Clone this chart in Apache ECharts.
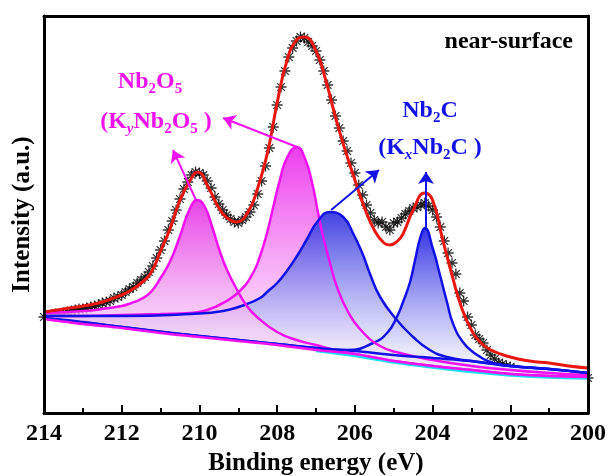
<!DOCTYPE html>
<html><head><meta charset="utf-8">
<script src="https://cdn.jsdelivr.net/npm/echarts@6/dist/echarts.min.js"></script>
<style>html,body{margin:0;padding:0;background:#fff}#c{width:608px;height:476px}</style>
</head><body><div id="c"></div>
<script>
// ---- data (binding energy in eV, intensity in a.u.) ----
const starE = [214,213.9,213.8,213.7,213.6,213.5,213.4,213.3,213.2,213.1,
213,212.9,212.8,212.7,212.6,212.5,212.4,212.3,212.2,212.1,
212,211.9,211.8,211.7,211.6,211.5,211.4,211.3,211.2,211.1,
211,210.9,210.8,210.7,210.6,210.5,210.4,210.3,210.2,210.1,
210,209.9,209.8,209.7,209.6,209.5,209.4,209.3,209.2,209.1,
209,208.9,208.8,208.7,208.6,208.5,208.4,208.3,208.2,208.1,
208,207.9,207.8,207.7,207.6,207.5,207.4,207.3,207.2,207.1,
207,206.9,206.8,206.7,206.6,206.5,206.4,206.3,206.2,206.1,
206,205.9,205.8,205.7,205.6,205.5,205.4,205.3,205.2,205.1,
205,204.9,204.8,204.7,204.6,204.5,204.4,204.3,204.2,204.1,
204,203.9,203.8,203.7,203.6,203.5,203.4,203.3,203.2,203.1,
203,202.9,202.8,202.7,202.6,202.5,202.4,202.3,202.2,202.1,
202,201.9,201.8,201.7,201.6,201.5,201.4,201.3,201.2,201.1,
201,200.9,200.8,200.7,200.6,200.5,200.4,200.3,200.2,200.1,
200];
const starI = [96,97,98,99,99,100,101,102,103,104,
104,105,106,107,108,110,111,112,115,116,
118,121,124,126,130,133,136,141,147,155,
163,172,183,192,203,214,224,231,238,241,
240,238,232,225,216,209,203,198,194,191,
190,193,196,201,208,219,232,247,265,286,
308,326,342,356,365,372,376,375,371,367,
362,353,342,328,313,297,285,272,262,250,
240,228,218,208,200,193,190,191,186,183,
190,191,195,199,202,205,206,208,210,207,
203,196,186,172,160,150,139,120,112,96,
88,78,74,70,63,58,54,50,49,47,
46,44,42,41,40,39,38,38,37,37,
36,36,36,35,36,35,35,35,34,35,
35];

const fitE = [214,213.5,213,212.5,212,211.75,211.5,211.25,211,210.75,210.5,210.25,210.05,209.75,209.5,209.25,209.05,208.75,208.5,208.25,208,207.75,207.5,207.3,207,206.75,206.5,206.25,206,205.75,205.5,205.25,205.1,204.9,204.75,204.5,204.2,204,203.75,203.5,203.25,203,202.75,202.5,202,201.5,201,200.5,200];
const fitI = [101,104,107,111,118,123,130,140,162,185,213,232,241,224,205,194,191,201,225,260,310,352,373,376,362,333,296,263,233,205,183,170,168,172,180,203,220,213,175,138,105,83,70,63,56,52,50,47,45];

// Nb2O5 components (magenta)
const nbo1E = [214,213,212.5,212,211.75,211.5,211.25,211,210.75,210.5,210.25,210.05,209.86,209.68,209.47,209.29,209.03,208.78,208.52,208,207.5,207,206.5,206,205,204,203,202,201,200];
const nbo1I = [100,102,104,107,110,114,121,135,152,177,204,213,206,187,161,143,123,107,96,81,73,68,63,59,52,47,43,39,37,36];
const nbo2E = [214,213,212,211,210.24,209.8,209.39,208.96,208.62,208.44,208.26,208.1,207.93,207.75,207.49,207.28,207.1,206.95,206.82,206.64,206.46,206.2,205.87,205.35,204.84,204,203,202,201,200];
const nbo2I = [97,97,98,99,100,103,110,122,140,157,180,206,233,255,266,254,230,201,177,150,126,103,84,67,60,53,47,43,40,38];

// Nb2C components (blue)
const nbc1E = [214,212,210.24,209.39,208.78,208.44,208.26,208,207.75,207.49,207.23,206.97,206.64,206.3,206.05,205.79,205.61,205.35,204.92,204.5,204.07,203.63,203,202,201,200];
const nbc1I = [97,97,99,102,109,115,121,130,142,157,174,191,201,196,180,158,139,116,93,76,63,56,52,47,44,40];
const nbc2E = [214,212,210,208,207,206.2,205.53,205.17,204.92,204.76,204.58,204.45,204.32,204.2,203.99,203.81,203.63,203.47,203.22,202.96,202.52,202,201,200];
const nbc2I = [95,86,77,69,65,63,70,80,96,111,131,153,175,185,164,138,111,89,71,61,51,47,44,40];

// backgrounds
const bgE = [214,213,212,211,210,209,208,207,206,205,204,203,202,201,200];
const bgUpperI = [95,91,86,81,77,73,69,65,62,58,55,52,47,44,40];
const bgLowerI = [94,89,85,80,76,72,68,63,59,52,47,43,39,37,36];
const cyanE = [207,206,205,204,203,202,201,200];
const cyanI = [62,57,50.5,45.5,41,37.5,35.5,34.5];

// annotation arrows [fromE, fromI, toE, toI]
const arrowsNbO = [[210.09,213,210.68,263],[207.49,266,209.39,295]];
const arrowsNbC = [[206.61,203,205.38,243],[204.17,185,204.17,241]];

const xMin = 200, xMax = 214, xStep = 2;
const yMin = 0, yMax = 397;

// ---- chart ----
const zip = (a, b) => a.map((v, i) => [v, b[i]]);
const FONT = 'Liberation Serif';
const MAG = '#f010f0', BLUE = '#1212e6', RED = '#e8170f', CYAN = '#18e0f0';
const grad = (stops) => new echarts.graphic.LinearGradient(0, 0, 0, 1, stops.map(s => ({offset: s[0], color: s[1]})));

function peak(E, I, color, stops) {
  return {type: 'line', data: zip(E, I), smooth: 0.5, symbol: 'none', silent: true,
    lineStyle: {color: color, width: 2.5}, areaStyle: {color: grad(stops), opacity: 1}};
}
function plain(E, I, color, w) {
  return {type: 'line', data: zip(E, I), smooth: 0.3, symbol: 'none', silent: true, lineStyle: {color: color, width: w}};
}
function arrows(list, color) {
  return {type: 'line', data: [], silent: true,
    markLine: {silent: true, symbol: ['none', 'arrow'], symbolSize: 12, animation: false,
      label: {show: false}, lineStyle: {color: color, width: 2, type: 'solid'},
      itemStyle: {color: color},
      data: list.map(a => [{coord: [a[0], a[1]]}, {coord: [a[2], a[3]]}])}};
}

const axisCommon = {min: xMin, max: xMax, type: 'value', inverse: true, interval: xStep, z: 10};
const chart = echarts.init(document.getElementById('c'), null, {renderer: 'canvas'});
function rich(col) {
  return {
    a: {fontSize: 24, fontWeight: 'bold', fontFamily: FONT, fill: col},
    s: {fontSize: 15, fontWeight: 'bold', fontFamily: FONT, fill: col, padding: [14, 0, 0, 0]},
    i: {fontSize: 15, fontWeight: 'bold', fontStyle: 'italic', fontFamily: FONT, fill: col, padding: [14, 0, 0, 0]}
  };
}
function label(x, y, text, r) {
  return {type: 'text', x: x, y: y, z: 100, silent: true,
    style: {text: text, rich: r, align: 'center', verticalAlign: 'middle', textAlign: 'center', textVerticalAlign: 'middle'}};
}

chart.setOption({
  animation: false,
  backgroundColor: '#fff',
  grid: {left: 44, right: 20, top: 16, bottom: 63, containLabel: false, outerBoundsMode: 'none'},
  xAxis: [
    Object.assign({}, axisCommon, {position: 'bottom',
      axisLine: {show: true, onZero: false, lineStyle: {color: '#000', width: 3}},
      axisTick: {show: true, inside: true, length: 8, lineStyle: {color: '#000', width: 2}},
      minorTick: {show: true, splitNumber: 2, length: 5, lineStyle: {color: '#000', width: 2}},
      axisLabel: {fontSize: 24, fontWeight: 'bold', fontFamily: FONT, color: '#000', margin: 9},
      splitLine: {show: false},
      name: 'Binding energy (eV)', nameLocation: 'middle', nameGap: 36,
      nameTextStyle: {fontSize: 25, fontWeight: 'bold', fontFamily: FONT, color: '#000'}}),
    Object.assign({}, axisCommon, {position: 'top',
      axisLine: {show: true, onZero: false, lineStyle: {color: '#000', width: 3}},
      axisTick: {show: false}, axisLabel: {show: false}, splitLine: {show: false}})
  ],
  yAxis: [
    {type: 'value', min: yMin, max: yMax, position: 'left', z: 10,
      axisLine: {show: true, onZero: false, lineStyle: {color: '#000', width: 3}},
      axisTick: {show: false}, axisLabel: {show: false}, splitLine: {show: false},
      name: 'Intensity (a.u.)', nameLocation: 'middle', nameGap: 9,
      nameTextStyle: {fontSize: 25, fontWeight: 'bold', fontFamily: FONT, color: '#000'}},
    {type: 'value', min: yMin, max: yMax, position: 'right', z: 10,
      axisLine: {show: true, onZero: false, lineStyle: {color: '#000', width: 3}},
      axisTick: {show: false}, axisLabel: {show: false}, splitLine: {show: false}}
  ],
  series: [
    {type: 'line', data: zip(bgE, bgUpperI), symbol: 'none', silent: true, lineStyle: {width: 0},
      areaStyle: {color: '#dcc8e0', opacity: 1}},
    peak(nbc2E, nbc2I, BLUE, [[0, 'rgba(40,40,228,0.95)'], [0.7, 'rgba(228,228,252,0.7)'], [1, 'rgba(228,228,252,0.7)']]),
    peak(nbo2E, nbo2I, MAG, [[0, 'rgba(236,50,236,0.95)'], [0.72, 'rgba(250,218,250,0.7)'], [1, 'rgba(250,218,250,0.7)']]),
    peak(nbc1E, nbc1I, BLUE, [[0, 'rgba(50,50,225,0.92)'], [0.68, 'rgba(232,232,252,0.72)'], [1, 'rgba(232,232,252,0.72)']]),
    peak(nbo1E, nbo1I, MAG, [[0, 'rgba(232,55,232,0.95)'], [0.62, 'rgba(246,208,246,0.72)'], [1, 'rgba(246,208,246,0.72)']]),
    {type: 'line', data: zip(bgE, bgLowerI), symbol: 'none', silent: true, lineStyle: {width: 0},
      areaStyle: {color: '#ffffff', opacity: 1}},
    plain(cyanE, cyanI, CYAN, 2.5),
    plain(bgE, bgUpperI, BLUE, 2.5),
    plain(bgE, bgLowerI, MAG, 2.5),
    {type: 'scatter', data: zip(starE, starI), silent: true,
      symbol: 'path://M0,5L10,5M5,0L5,10M1.5,1.5L8.5,8.5M8.5,1.5L1.5,8.5', symbolSize: 11,
      itemStyle: {color: 'rgba(0,0,0,0)', borderColor: '#000', borderWidth: 1.3}},
    {type: 'line', data: zip(fitE, fitI), smooth: 0.5, symbol: 'none', silent: true,
      lineStyle: {color: RED, width: 3}},
    arrows(arrowsNbO, MAG),
    arrows(arrowsNbC, BLUE)
  ],
  graphic: [
    {type: 'text', x: 573, y: 42, z: 100, silent: true,
      style: {text: 'near-surface', fontSize: 24, fontWeight: 'bold', fontFamily: FONT, fill: '#000',
        align: 'right', verticalAlign: 'middle', textAlign: 'right', textVerticalAlign: 'middle'}},
    label(150, 82, '{a|Nb}{s|2}{a|O}{s|5}', rich(MAG)),
    label(156, 122, '{a|(K}{i|y}{a|Nb}{s|2}{a|O}{s|5}{a| )}', rich(MAG)),
    label(430, 111, '{a|Nb}{s|2}{a|C}', rich(BLUE)),
    label(430, 148, '{a|(K}{i|x}{a|Nb}{s|2}{a|C )}', rich(BLUE))
  ]
});
</script>
</body></html>
